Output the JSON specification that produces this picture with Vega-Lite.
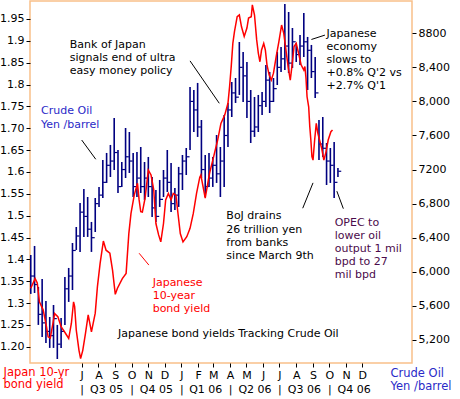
{
  "$schema": "https://vega.github.io/schema/vega-lite/v6.json",
  "width": 382,
  "height": 362,
  "autosize": {"type": "none"},
  "padding": {"left": 30, "top": 1, "right": 48, "bottom": 36},
  "background": "white",
  "config": {
    "view": {"stroke": "#f9c089", "strokeWidth": 1.5},
    "font": "DejaVu Sans",
    "axis": {"labelFont": "DejaVu Sans", "titleFont": "DejaVu Sans", "grid": false, "domain": false, "labelColor": "#000000", "tickColor": "#000000", "labelOverlap": false, "labelFlush": false, "titleFontWeight": "normal"}
  },
  "datasets": {
    "oil": [
      {"date":"2005-03-29","high":6197,"low":5740,"close":5950},
      {"date":"2005-04-05","high":6303,"low":5751,"close":5850},
      {"date":"2005-04-12","high":5822,"low":5376,"close":5500},
      {"date":"2005-04-19","high":5916,"low":5235,"close":5400},
      {"date":"2005-04-26","high":5657,"low":5164,"close":5300},
      {"date":"2005-05-03","high":5469,"low":5106,"close":5250},
      {"date":"2005-05-10","high":5610,"low":5106,"close":5450},
      {"date":"2005-05-17","high":5376,"low":4976,"close":5150},
      {"date":"2005-05-24","high":5458,"low":5106,"close":5300},
      {"date":"2005-05-31","high":5939,"low":5376,"close":5800},
      {"date":"2005-06-07","high":6045,"low":5646,"close":5950},
      {"date":"2005-06-14","high":6338,"low":5786,"close":6250},
      {"date":"2005-06-21","high":6526,"low":6256,"close":6420},
      {"date":"2005-06-28","high":6808,"low":6233,"close":6700},
      {"date":"2005-07-05","high":6972,"low":6409,"close":6650},
      {"date":"2005-07-12","high":6878,"low":6409,"close":6500},
      {"date":"2005-07-19","high":6585,"low":6233,"close":6400},
      {"date":"2005-07-26","high":6866,"low":6467,"close":6800},
      {"date":"2005-08-02","high":6996,"low":6761,"close":6900},
      {"date":"2005-08-09","high":7313,"low":6866,"close":7050},
      {"date":"2005-08-16","high":7395,"low":7043,"close":7250},
      {"date":"2005-08-23","high":7489,"low":7113,"close":7300},
      {"date":"2005-08-30","high":7806,"low":7195,"close":7400},
      {"date":"2005-09-06","high":7430,"low":6925,"close":7000},
      {"date":"2005-09-13","high":7289,"low":6996,"close":7200},
      {"date":"2005-09-20","high":7688,"low":7101,"close":7350},
      {"date":"2005-09-27","high":7641,"low":7160,"close":7300},
      {"date":"2005-10-04","high":7395,"low":6878,"close":7000},
      {"date":"2005-10-11","high":7407,"low":6878,"close":7100},
      {"date":"2005-10-18","high":7465,"low":6925,"close":7000},
      {"date":"2005-10-25","high":7289,"low":6843,"close":7100},
      {"date":"2005-11-01","high":7348,"low":6878,"close":7000},
      {"date":"2005-11-08","high":7113,"low":6643,"close":6750},
      {"date":"2005-11-15","high":6960,"low":6585,"close":6650},
      {"date":"2005-11-22","high":7078,"low":6761,"close":6850},
      {"date":"2005-11-29","high":7195,"low":6878,"close":7100},
      {"date":"2005-12-06","high":7430,"low":6937,"close":7050},
      {"date":"2005-12-13","high":7277,"low":6702,"close":6800},
      {"date":"2005-12-20","high":6984,"low":6726,"close":6900},
      {"date":"2005-12-27","high":7231,"low":6761,"close":7150},
      {"date":"2006-01-03","high":7371,"low":6960,"close":7300},
      {"date":"2006-01-10","high":7453,"low":7136,"close":7350},
      {"date":"2006-01-17","high":8170,"low":7430,"close":8000},
      {"date":"2006-01-24","high":8134,"low":7641,"close":7900},
      {"date":"2006-01-31","high":8217,"low":7583,"close":7700},
      {"date":"2006-02-07","high":7782,"low":7101,"close":7200},
      {"date":"2006-02-14","high":7371,"low":6878,"close":7000},
      {"date":"2006-02-21","high":7395,"low":6996,"close":7100},
      {"date":"2006-02-28","high":7348,"low":6996,"close":7250},
      {"date":"2006-03-07","high":7606,"low":7043,"close":7150},
      {"date":"2006-03-14","high":7465,"low":6878,"close":7300},
      {"date":"2006-03-21","high":7841,"low":6996,"close":7600},
      {"date":"2006-03-28","high":7982,"low":7465,"close":7900},
      {"date":"2006-04-04","high":8228,"low":7817,"close":8100},
      {"date":"2006-04-11","high":8275,"low":7982,"close":8050},
      {"date":"2006-04-18","high":8698,"low":8076,"close":8400},
      {"date":"2006-04-25","high":8581,"low":7993,"close":8300},
      {"date":"2006-05-02","high":8463,"low":7806,"close":8000},
      {"date":"2006-05-09","high":8134,"low":7512,"close":7650},
      {"date":"2006-05-16","high":8052,"low":7583,"close":7700},
      {"date":"2006-05-23","high":8076,"low":7641,"close":7950},
      {"date":"2006-05-30","high":8111,"low":7841,"close":8000},
      {"date":"2006-06-06","high":8428,"low":7935,"close":8250},
      {"date":"2006-06-13","high":8346,"low":7864,"close":8000},
      {"date":"2006-06-20","high":8275,"low":7993,"close":8150},
      {"date":"2006-06-27","high":8581,"low":8193,"close":8400},
      {"date":"2006-07-04","high":8639,"low":8346,"close":8500},
      {"date":"2006-07-11","high":9144,"low":8369,"close":8650},
      {"date":"2006-07-18","high":9050,"low":8334,"close":8450},
      {"date":"2006-07-25","high":8862,"low":8393,"close":8700},
      {"date":"2006-08-01","high":8686,"low":8463,"close":8550},
      {"date":"2006-08-08","high":8780,"low":8428,"close":8650},
      {"date":"2006-08-15","high":9038,"low":8522,"close":8700},
      {"date":"2006-08-22","high":8757,"low":8134,"close":8600},
      {"date":"2006-08-29","high":8663,"low":8275,"close":8350},
      {"date":"2006-09-05","high":8522,"low":8041,"close":8100},
      {"date":"2006-09-12","high":7782,"low":7313,"close":7500},
      {"date":"2006-09-19","high":7817,"low":7348,"close":7450},
      {"date":"2006-09-26","high":7512,"low":7019,"close":7300},
      {"date":"2006-10-03","high":7453,"low":7043,"close":7250},
      {"date":"2006-10-10","high":7524,"low":6866,"close":7050},
      {"date":"2006-10-17","high":7219,"low":7113,"close":7180}
    ],
    "jgb": [
      {"date":"2005-03-29","yield":1.334},{"date":"2005-04-06","yield":1.356},{"date":"2005-04-10","yield":1.346},
      {"date":"2005-04-14","yield":1.303},{"date":"2005-04-21","yield":1.284},{"date":"2005-04-27","yield":1.246},
      {"date":"2005-04-30","yield":1.223},{"date":"2005-05-04","yield":1.220},{"date":"2005-05-09","yield":1.254},
      {"date":"2005-05-12","yield":1.276},{"date":"2005-05-18","yield":1.269},{"date":"2005-05-24","yield":1.246},
      {"date":"2005-06-01","yield":1.231},{"date":"2005-06-07","yield":1.219},{"date":"2005-06-12","yield":1.254},
      {"date":"2005-06-16","yield":1.303},{"date":"2005-06-18","yield":1.292},{"date":"2005-06-21","yield":1.238},
      {"date":"2005-06-26","yield":1.192},{"date":"2005-06-29","yield":1.173},{"date":"2005-07-03","yield":1.192},
      {"date":"2005-07-08","yield":1.231},{"date":"2005-07-13","yield":1.273},{"date":"2005-07-19","yield":1.234},
      {"date":"2005-07-26","yield":1.277},{"date":"2005-07-30","yield":1.337},{"date":"2005-08-04","yield":1.391},
      {"date":"2005-08-10","yield":1.442},{"date":"2005-08-15","yield":1.421},{"date":"2005-08-22","yield":1.414},
      {"date":"2005-08-27","yield":1.375},{"date":"2005-09-01","yield":1.320},{"date":"2005-09-05","yield":1.334},
      {"date":"2005-09-14","yield":1.356},{"date":"2005-09-21","yield":1.368},{"date":"2005-09-26","yield":1.459},
      {"date":"2005-09-30","yield":1.505},{"date":"2005-10-06","yield":1.547},{"date":"2005-10-12","yield":1.574},
      {"date":"2005-10-15","yield":1.536},{"date":"2005-10-18","yield":1.509},{"date":"2005-10-21","yield":1.508},
      {"date":"2005-10-26","yield":1.540},{"date":"2005-11-01","yield":1.604},{"date":"2005-11-06","yield":1.593},
      {"date":"2005-11-11","yield":1.559},{"date":"2005-11-15","yield":1.482},{"date":"2005-11-20","yield":1.456},
      {"date":"2005-11-24","yield":1.440},{"date":"2005-11-29","yield":1.482},{"date":"2005-12-03","yield":1.536},
      {"date":"2005-12-08","yield":1.551},{"date":"2005-12-13","yield":1.536},{"date":"2005-12-17","yield":1.551},
      {"date":"2005-12-22","yield":1.547},{"date":"2005-12-25","yield":1.513},{"date":"2005-12-30","yield":1.459},
      {"date":"2006-01-04","yield":1.440},{"date":"2006-01-11","yield":1.452},{"date":"2006-01-17","yield":1.471},
      {"date":"2006-01-23","yield":1.505},{"date":"2006-01-29","yield":1.551},{"date":"2006-02-04","yield":1.588},
      {"date":"2006-02-06","yield":1.593},{"date":"2006-02-14","yield":1.540},{"date":"2006-02-22","yield":1.597},
      {"date":"2006-02-28","yield":1.627},{"date":"2006-03-09","yield":1.673},{"date":"2006-03-15","yield":1.711},
      {"date":"2006-03-22","yield":1.730},{"date":"2006-03-28","yield":1.757},{"date":"2006-03-31","yield":1.795},
      {"date":"2006-04-03","yield":1.841},{"date":"2006-04-06","yield":1.894},{"date":"2006-04-09","yield":1.921},
      {"date":"2006-04-14","yield":1.955},{"date":"2006-04-18","yield":1.959},{"date":"2006-04-22","yield":1.932},
      {"date":"2006-04-27","yield":1.910},{"date":"2006-05-02","yield":1.929},{"date":"2006-05-05","yield":1.952},
      {"date":"2006-05-10","yield":1.955},{"date":"2006-05-12","yield":1.982},{"date":"2006-05-16","yield":1.959},
      {"date":"2006-05-20","yield":1.902},{"date":"2006-05-23","yield":1.872},{"date":"2006-05-26","yield":1.852},
      {"date":"2006-05-29","yield":1.879},{"date":"2006-06-02","yield":1.894},{"date":"2006-06-05","yield":1.879},
      {"date":"2006-06-08","yield":1.845},{"date":"2006-06-12","yield":1.822},{"date":"2006-06-16","yield":1.810},
      {"date":"2006-06-20","yield":1.826},{"date":"2006-06-25","yield":1.864},{"date":"2006-06-30","yield":1.898},
      {"date":"2006-07-05","yield":1.936},{"date":"2006-07-09","yield":1.917},{"date":"2006-07-13","yield":1.879},
      {"date":"2006-07-17","yield":1.841},{"date":"2006-07-21","yield":1.810},{"date":"2006-07-24","yield":1.841},
      {"date":"2006-07-28","yield":1.887},{"date":"2006-08-01","yield":1.894},{"date":"2006-08-06","yield":1.868},
      {"date":"2006-08-10","yield":1.845},{"date":"2006-08-15","yield":1.833},{"date":"2006-08-17","yield":1.841},
      {"date":"2006-08-19","yield":1.815},{"date":"2006-08-21","yield":1.772},{"date":"2006-08-24","yield":1.749},
      {"date":"2006-08-26","yield":1.704},{"date":"2006-08-28","yield":1.673},{"date":"2006-08-30","yield":1.635},
      {"date":"2006-09-01","yield":1.627},{"date":"2006-09-04","yield":1.673},{"date":"2006-09-07","yield":1.711},
      {"date":"2006-09-10","yield":1.688},{"date":"2006-09-13","yield":1.673},{"date":"2006-09-17","yield":1.654},
      {"date":"2006-09-21","yield":1.627},{"date":"2006-09-25","yield":1.646},{"date":"2006-09-29","yield":1.673},
      {"date":"2006-10-04","yield":1.692},{"date":"2006-10-07","yield":1.696}
    ],
    "notes": [
      {"date":"2005-06-09","v":1.905,"kind":"news","note":"Bank of Japan\nsignals end of ultra\neasy money policy"},
      {"date":"2005-04-17","v":1.752,"kind":"oil","note":"Crude Oil\nYen /barrel"},
      {"date":"2005-11-09","v":1.360,"kind":"yield","note":"Japanese\n10-year\nbond yield"},
      {"date":"2006-03-25","v":1.512,"kind":"news","note":"BoJ drains\n26 trillion yen\nfrom banks\nsince March 9th"},
      {"date":"2006-10-11","v":1.498,"kind":"opec","note":"OPEC to\nlower oil\noutput 1 mil\nbpd to 27\nmil bpd"},
      {"date":"2006-09-26","v":1.930,"kind":"news","note":"Japanese\neconomy\nslows to\n+0.8% Q'2 vs\n+2.7% Q'1"},
      {"date":"2005-09-06","v":1.244,"kind":"news","note":"Japanese bond yields Tracking Crude Oil"}
    ],
    "leaders": [
      {"d1":"2006-01-17","v1":1.854,"d2":"2006-03-12","v2":1.757,"kind":"news"},
      {"d1":"2005-07-01","v1":1.673,"d2":"2005-07-27","v2":1.629,"kind":"news"},
      {"d1":"2005-10-15","v1":1.414,"d2":"2005-11-02","v2":1.387,"kind":"yield"},
      {"d1":"2006-08-13","v1":1.517,"d2":"2006-09-01","v2":1.575,"kind":"news"},
      {"d1":"2006-10-15","v1":1.556,"d2":"2006-10-27","v2":1.516,"kind":"news"},
      {"d1":"2006-08-29","v1":1.903,"d2":"2006-09-23","v2":1.913,"kind":"news"}
    ]
  },
  "layer": [
    {
      "data": {"name": "oil"},
      "mark": {"type": "rule", "color": "#000080", "strokeWidth": 1.6},
      "encoding": {
        "x": {"field": "date", "type": "temporal",
          "scale": {"type": "utc", "nice": false, "domain": [{"year":2005,"month":3,"date":27,"hours":14,"utc":true},{"year":2007,"month":3,"date":2,"hours":17,"utc":true}]},
          "axis": {"orient": "bottom", "title": null, "tickSize": 4, "labelPadding": 2, "labelFontSize": 11,
            "values": [
              {"year":2005,"month":7,"date":1,"utc":true},{"year":2005,"month":8,"date":1,"utc":true},{"year":2005,"month":9,"date":1,"utc":true},
              {"year":2005,"month":10,"date":1,"utc":true},{"year":2005,"month":11,"date":1,"utc":true},{"year":2005,"month":12,"date":1,"utc":true},
              {"year":2006,"month":1,"date":1,"utc":true},{"year":2006,"month":2,"date":1,"utc":true},{"year":2006,"month":3,"date":1,"utc":true},
              {"year":2006,"month":4,"date":1,"utc":true},{"year":2006,"month":5,"date":1,"utc":true},{"year":2006,"month":6,"date":1,"utc":true},
              {"year":2006,"month":7,"date":1,"utc":true},{"year":2006,"month":8,"date":1,"utc":true},{"year":2006,"month":9,"date":1,"utc":true},
              {"year":2006,"month":10,"date":1,"utc":true},{"year":2006,"month":11,"date":1,"utc":true},{"year":2006,"month":12,"date":1,"utc":true}
            ],
            "labelExpr": "substring(utcFormat(datum.value, '%b'), 0, 1)"}},
        "y": {"field": "high", "type": "quantitative",
          "scale": {"domain": [4929, 9179], "nice": false, "zero": false},
          "axis": {"orient": "right", "tickSize": 4, "labelPadding": 2, "labelFontSize": 11,
            "values": [5200, 5600, 6000, 6400, 6800, 7200, 7600, 8000, 8400, 8800],
            "labelExpr": "datum.value == 8800 || datum.value == 7200 ? format(datum.value, 'd') : format(datum.value, ',d')",
            "title": ["Crude Oil", "Yen /barrel"], "titleColor": "#2a2ac8", "titleFontSize": 11.5,
            "titleAngle": 0, "titleAlign": "left", "titleBaseline": "top", "titleX": -22, "titleY": 366.5, "titleLineHeight": 12.5}},
        "y2": {"field": "low"}
      }
    },
    {
      "data": {"name": "oil"},
      "mark": {"type": "tick", "orient": "horizontal", "size": 3, "thickness": 1.2, "xOffset": 1.8, "color": "#000080", "opacity": 1},
      "encoding": {
        "x": {"field": "date", "type": "temporal", "scale": {"type": "utc", "nice": false, "domain": [{"year":2005,"month":3,"date":27,"hours":14,"utc":true},{"year":2007,"month":3,"date":2,"hours":17,"utc":true}]}, "axis": null},
        "y": {"field": "close", "type": "quantitative", "scale": {"domain": [4929, 9179], "nice": false, "zero": false}, "axis": null}
      }
    },
    {
      "data": {"name": "jgb"},
      "mark": {"type": "line", "color": "#ff0000", "strokeWidth": 1.5},
      "encoding": {
        "x": {"field": "date", "type": "temporal",
          "scale": {"type": "utc", "nice": false, "domain": [{"year":2005,"month":3,"date":27,"hours":14,"utc":true},{"year":2007,"month":3,"date":2,"hours":17,"utc":true}]},
          "axis": {"orient": "bottom", "title": null, "ticks": false, "tickSize": 0, "offset": 18, "labelPadding": 2, "labelFontSize": 11,
            "values": [
              {"year":2005,"month":7,"date":1,"utc":true},{"year":2005,"month":8,"date":15,"utc":true},
              {"year":2005,"month":10,"date":1,"utc":true},{"year":2005,"month":11,"date":15,"utc":true},
              {"year":2006,"month":1,"date":1,"utc":true},{"year":2006,"month":2,"date":14,"utc":true},
              {"year":2006,"month":4,"date":1,"utc":true},{"year":2006,"month":5,"date":16,"utc":true},
              {"year":2006,"month":7,"date":1,"utc":true},{"year":2006,"month":8,"date":15,"utc":true},
              {"year":2006,"month":10,"date":1,"utc":true},{"year":2006,"month":11,"date":15,"utc":true}
            ],
            "labelExpr": "utcdate(datum.value) == 1 ? '|' : 'Q' + (floor(utcmonth(datum.value) / 3) + 1) + ' ' + utcFormat(datum.value, '%y')"}},
        "y": {"field": "yield", "type": "quantitative",
          "scale": {"domain": [1.163, 1.991], "nice": false, "zero": false},
          "axis": {"orient": "left", "tickSize": 4, "labelPadding": 2, "labelFontSize": 11,
            "values": [1.2, 1.25, 1.3, 1.35, 1.4, 1.45, 1.5, 1.55, 1.6, 1.65, 1.7, 1.75, 1.8, 1.85, 1.9, 1.95],
            "labelExpr": "datum.value == 1.95 || datum.value == 1.7 || datum.value == 1.2 ? format(datum.value, '.2f') : format(datum.value, '~g')",
            "title": ["Japan 10-yr", "bond yield"], "titleColor": "#ff0000", "titleFontSize": 11.5,
            "titleAngle": 0, "titleAlign": "left", "titleBaseline": "top", "titleX": -27, "titleY": 365, "titleLineHeight": 12.5}}
      }
    },
    {
      "data": {"name": "leaders"},
      "mark": {"type": "rule", "strokeWidth": 1},
      "encoding": {
        "x": {"field": "d1", "type": "temporal", "scale": {"type": "utc", "nice": false, "domain": [{"year":2005,"month":3,"date":27,"hours":14,"utc":true},{"year":2007,"month":3,"date":2,"hours":17,"utc":true}]}, "axis": null},
        "x2": {"field": "d2"},
        "y": {"field": "v1", "type": "quantitative", "scale": {"domain": [1.163, 1.991], "nice": false, "zero": false}, "axis": null},
        "y2": {"field": "v2"},
        "color": {"field": "kind", "type": "nominal", "scale": {"domain": ["news", "yield", "oil", "opec"], "range": ["#000000", "#ff0000", "#2a2ac8", "#4b0b4b"]}, "legend": null}
      }
    },
    {
      "data": {"name": "notes"},
      "mark": {"type": "text", "align": "left", "baseline": "top", "fontSize": 11, "lineHeight": 13.2, "lineBreak": "\n", "font": "DejaVu Sans"},
      "encoding": {
        "x": {"field": "date", "type": "temporal", "scale": {"type": "utc", "nice": false, "domain": [{"year":2005,"month":3,"date":27,"hours":14,"utc":true},{"year":2007,"month":3,"date":2,"hours":17,"utc":true}]}, "axis": null},
        "y": {"field": "v", "type": "quantitative", "scale": {"domain": [1.163, 1.991], "nice": false, "zero": false}, "axis": null},
        "text": {"field": "note"},
        "color": {"field": "kind", "type": "nominal", "scale": {"domain": ["news", "yield", "oil", "opec"], "range": ["#000000", "#ff0000", "#2a2ac8", "#4b0b4b"]}, "legend": null}
      }
    }
  ],
  "resolve": {"scale": {"y": "independent", "color": "independent"}, "axis": {"x": "independent", "y": "independent"}}
}
